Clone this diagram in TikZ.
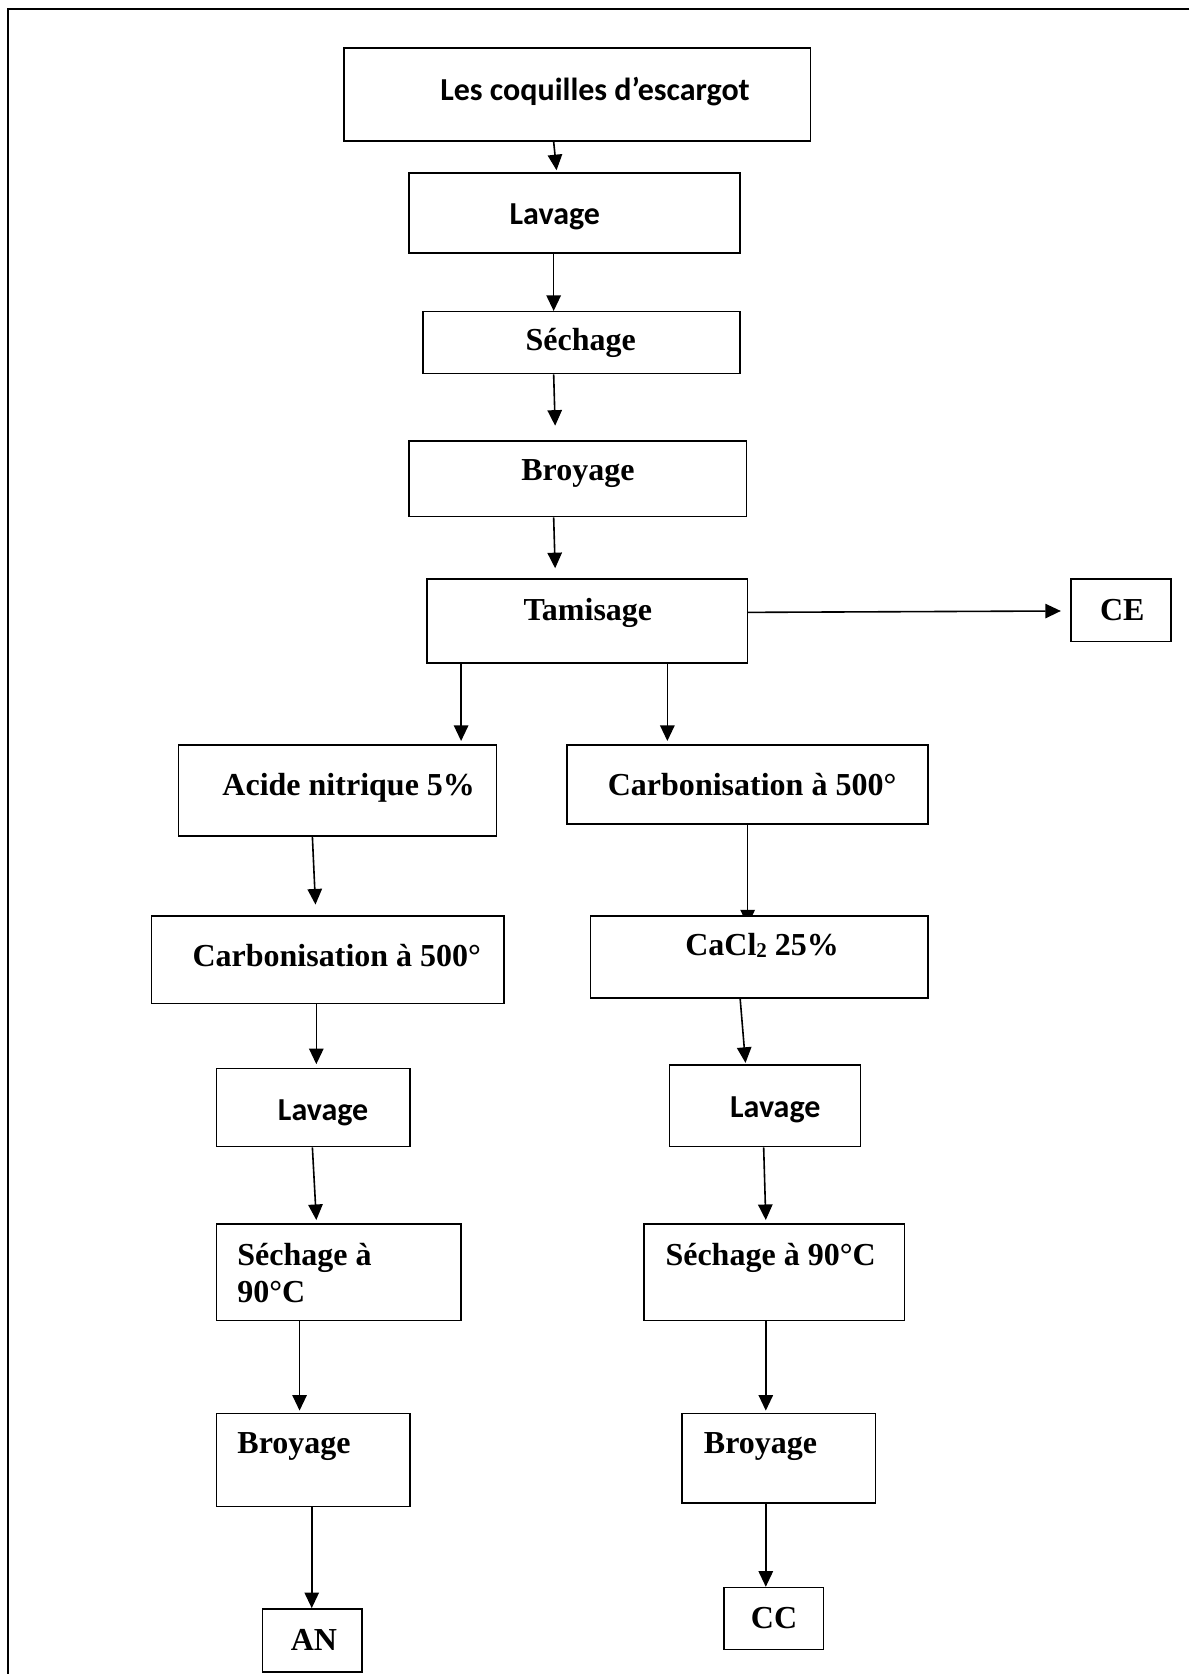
\documentclass[tikz,border=0pt]{standalone}
\usepackage{fontspec}
\setmainfont{Liberation Serif}
\newfontfamily\calfont{Carlito}
\usetikzlibrary{arrows.meta,calc,fit,backgrounds}
\tikzset{
  box/.style={draw=black, line width=0.75pt, fill=white, inner sep=0pt, rectangle},
  lbl/.style={inner sep=0pt, anchor=base west, font=\fontsize{16}{18.4}\selectfont\bfseries},
  clbl/.style={inner sep=0pt, anchor=base west, font=\fontsize{16}{18.4}\selectfont\calfont\bfseries},
  arr/.style={line width=0.8pt, -{Triangle[length=7.8pt,width=7.2pt]}},
}
\begin{document}
\begin{tikzpicture}[x=0.53366pt,y=-0.53366pt]
\useasboundingbox (0,0) rectangle (1114,1568);
% outer frame (top and left edges)
\draw[line width=1pt] (1114,8) -- (7.5,8) -- (7.5,1568);
% boxes
\node[box, fit={(322,45) (759,132)}] (b1) {};
\node[box, fit={(383,162) (693,237)}] (b2) {};
\node[box, fit={(396,292) (693,350)}] (b3) {};
\node[box, fit={(383,413) (699,484)}] (b4) {};
\node[box, fit={(400,542.5) (700,621)}] (b5) {};
\node[box, fit={(1003,542.5) (1097,601)}] (ce) {};
\node[box, fit={(167,698) (465,783)}] (b6) {};
\node[box, fit={(531,698) (869,772)}] (b7) {};
\node[box, fit={(142,858) (472,940)}] (b8) {};
\node[box, fit={(553,858) (869,935)}] (b9) {};
\node[box, fit={(203,1001) (384,1074)}] (b10) {};
\node[box, fit={(627,997.5) (806,1074)}] (b11) {};
\node[box, fit={(203,1146.5) (432,1237)}] (b12) {};
\node[box, fit={(603,1146.5) (847,1237)}] (b13) {};
\node[box, fit={(203,1324) (384,1411)}] (b14) {};
\node[box, fit={(639,1324) (820,1408)}] (b15) {};
\node[box, fit={(246,1507) (339,1566)}] (an) {};
\node[box, fit={(678,1487) (771.5,1545)}] (cc) {};
% texts
\node[clbl] (t1) at (412,94) {Les coquilles d’escargot};
\node[clbl] (t2) at (477,210) {Lavage};
\node[lbl] (t3) at (492,328) {Séchage};
\node[lbl] (t4) at (488,450) {Broyage};
\node[lbl] (t5) at (490,581) {Tamisage};
\node[lbl] (tce) at (1030,581) {CE};
\node[lbl] (t6) at (208,745) {Acide nitrique 5\%};
\node[lbl] (t7) at (569,745) {Carbonisation à 500°};
\node[lbl] (t8) at (180,905) {Carbonisation à 500°};
\node[lbl] (t9) at (641.5,895) {CaCl\raisebox{-1pt}{\fontsize{10.5}{12}\selectfont 2} 25\%};
\node[clbl] (t10) at (260,1050) {Lavage};
\node[clbl] (t11) at (683.5,1046.5) {Lavage};
\node[lbl] (t12a) at (222,1185) {Séchage à};
\node[lbl] (t12b) at (222,1220) {90°C};
\node[lbl] (t13) at (623,1185) {Séchage à 90°C};
\node[lbl] (t14) at (222,1361) {Broyage};
\node[lbl] (t15) at (659,1361) {Broyage};
\node[lbl] (tan) at (272,1546) {AN};
\node[lbl] (tcc) at (703,1525.5) {CC};
% connectors
\begin{scope}[on background layer]
\draw[arr] ($(b1.south west)+(197.3,0)$) -- ($(b2.north west)+(139,-1.8)$);
\draw[arr] ($(b2.south west)+(136.3,0)$) -- ($(b3.north west)+(123.3,0)$);
\draw[arr] ($(b3.south west)+(123.3,0)$) -- ($(b4.north west)+(137.7,-13.5)$);
\draw[arr] ($(b4.south west)+(136.3,0)$) -- ($(b5.north west)+(120.7,-9.5)$);
\draw[arr] ($(b5.north east)+(0,31.8)$) -- ($(ce.north west)+(-8.6,30.5)$);
\draw[arr] ($(b5.south west)+(32.6,0)$) -- ($(b6.north west)+(265.6,-3.2)$);
\draw[arr] ($(b5.south west)+(225.8,0)$) -- ($(b7.north west)+(94.8,-3.2)$);
\draw[arr] ($(b6.south west)+(126.3,0)$) -- ($(b8.north west)+(154.2,-10)$);
\draw[arr] ($(b7.south west)+(170,0)$) -- ($(b9.north west)+(148,9.5)$);
\draw[arr] ($(b9.south west)+(141,0)$) -- ($(b11.north west)+(72,-1.2)$);
\draw[arr] ($(b8.south west)+(155,0)$) -- ($(b10.north west)+(94,-3.5)$);
\draw[arr] ($(b10.south west)+(90.3,0)$) -- ($(b12.north west)+(94,-3)$);
\draw[arr] ($(b11.south west)+(89,0)$) -- ($(b13.north west)+(115,-3)$);
\draw[arr] ($(b12.south west)+(78.3,0)$) -- ($(b14.north west)+(78.3,-2)$);
\draw[arr] ($(b13.south west)+(115,0)$) -- ($(b15.north west)+(79,-2)$);
\draw[arr] ($(b14.south west)+(89.7,0)$) -- ($(an.north west)+(46.7,0)$);
\draw[arr] ($(b15.south west)+(79,0)$) -- ($(cc.north west)+(40,0)$);
\end{scope}
\end{tikzpicture}
\end{document}
